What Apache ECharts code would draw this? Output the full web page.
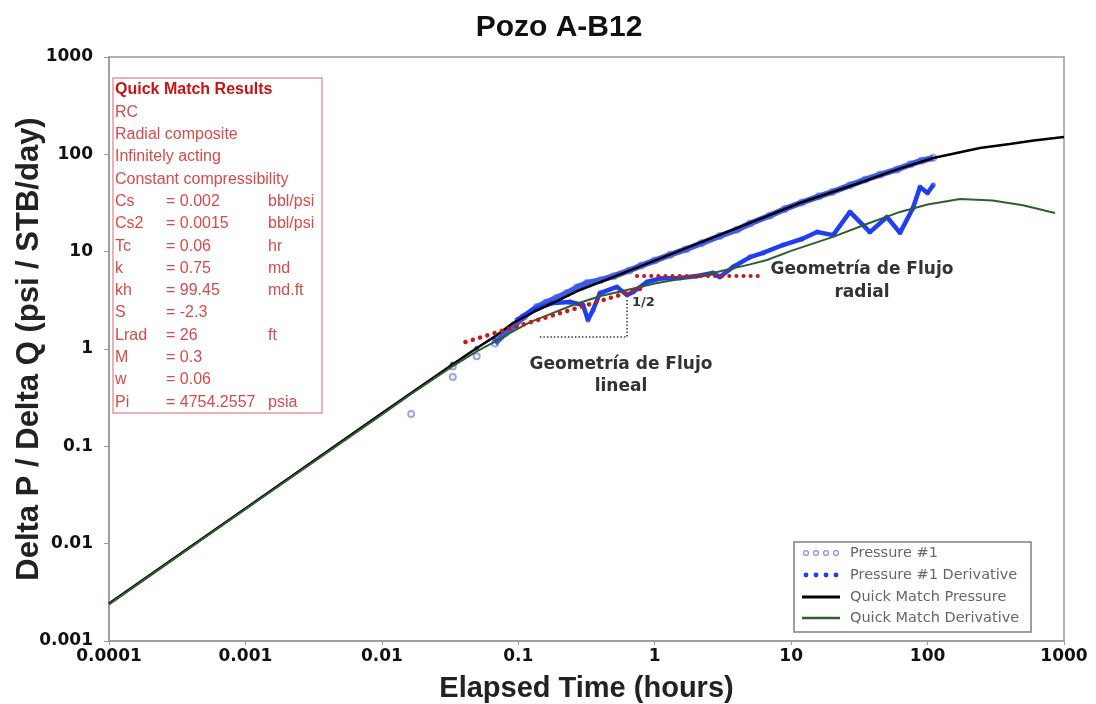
<!DOCTYPE html>
<html><head><meta charset="utf-8">
<script src="https://cdn.jsdelivr.net/npm/echarts@6/dist/echarts.min.js"></script>
<style>html,body{margin:0;padding:0;background:#fff}#c{width:1096px;height:704px}</style>
</head><body><div id="c"></div>
<script>
// ---------- data ----------
const xTickLabels = ['0.0001','0.001','0.01','0.1','1','10','100','1000'];
const yTickLabels = ['0.001','0.01','0.1','1','10','100','1000'];

const pressure1 = [[0.0164,0.215],[0.0331,0.515],[0.0331,0.66],[0.0496,0.84],[0.0675,1.14],[0.08,1.45],[0.095,1.78],[0.11,2.15],[0.137,2.70],[0.16,3.0],[0.19,3.35],[0.227,3.76],[0.27,4.3],[0.319,4.77],[0.4,5.1],[0.5,5.6],[0.65,6.4],[0.8,7.2],[1.0,8.1],[1.3,9.3],[1.7,10.6],[2.2,12.2],[3.0,14.5],[4.0,16.8],[5.0,19.5],[7,23.5],[9,27.5],[12,32],[16,37],[20,41],[27,48],[35,55],[45,62],[60,70],[75,79],[90,86],[110,92]];

const pressure1Deriv = [[0.033,0.70],[0.0496,1.02],[0.0675,1.24],[0.0977,1.99],[0.128,2.52],[0.179,2.97],[0.239,3.04],[0.298,2.83],[0.324,1.99],[0.353,2.52],[0.397,3.76],[0.528,4.34],[0.627,3.59],[0.694,3.85],[0.877,4.88],[1.1,5.3],[1.53,5.36],[2.0,5.6],[2.67,6.04],[3.0,5.5],[3.75,6.96],[5.0,8.8],[6.22,9.7],[8.7,11.7],[12,13.5],[15.5,15.9],[20.3,14.8],[27,25.6],[37.8,15.9],[50.4,22.7],[62.8,15.6],[78.2,28.1],[88,46.2],[100,40],[110,48.4]];

const qmPressure = [[0.0001,0.00242],[0.001,0.023],[0.01,0.218],[0.0164,0.352],[0.0327,0.69],[0.05,1.03],[0.0698,1.39],[0.0914,1.85],[0.13,2.4],[0.2,3.2],[0.283,4.04],[0.5,5.5],[1,8.1],[2.42,13.2],[5,19.8],[11.6,31.6],[30,49.6],[60,70],[110,91.7],[242,116],[400,128],[600,139],[859,147],[1000,151]];

const qmDeriv = [[0.0001,0.00238],[0.001,0.0226],[0.01,0.212],[0.0164,0.345],[0.0327,0.66],[0.05,0.95],[0.0698,1.22],[0.09,1.5],[0.122,1.89],[0.18,2.35],[0.252,2.83],[0.4,3.5],[0.627,4.04],[1.0,4.7],[1.53,5.24],[2.67,6.04],[3.5,6.6],[5,7.4],[6.65,8.2],[10,10.2],[20.3,14.2],[35,19],[62.8,25.6],[100,30.5],[173,34.8],[300,33.5],[500,30],[859,25]];

const halfSlopeLine = [[0.041,1.18],[0.82,4.24]];
const radialFlowLine = [[0.741,5.62],[5.91,5.62]];
const slopeTriangle = [[0.144,1.33],[0.627,1.33],[0.627,3.34]];

const infoTitle = 'Quick Match Results';
const infoHeader = ['RC','Radial composite','Infinitely acting','Constant compressibility'];
const infoParams = ['Cs','Cs2','Tc','k','kh','S','Lrad','M','w','Pi'];
const infoValues = ['= 0.002','= 0.0015','= 0.06','= 0.75','= 99.45','= -2.3','= 26','= 0.3','= 0.06','= 4754.2557'];
const infoUnits = ['bbl/psi','bbl/psi','hr','md','md.ft','','ft','','','psia'];

const legendNames = ['Pressure #1','Pressure #1 Derivative','Quick Match Pressure','Quick Match Derivative'];

// ---------- styles ----------
const C_P = '#8a8ae8', C_PBAND = '#3d5ce6', C_D = '#1f3ff0', C_QP = '#000000', C_QD = '#2f5f2f', C_RED = '#c41a1a';
const FB = '"DejaVu Sans", sans-serif';
const FA = '"Liberation Sans", Arial, sans-serif';

const chart = echarts.init(document.getElementById('c'), null, {renderer: 'canvas'});

function decLabel(arr, offset) {
  return function (v) { const i = Math.round(Math.log10(v)) + offset; return arr[i] !== undefined ? arr[i] : ''; };
}

// graphic: info box
const graphics = [];
const boxTextColor = '#d84a4a';
graphics.push({type:'rect', shape:{x:113,y:78,width:209,height:335}, style:{fill:'rgba(255,255,255,0)', stroke:'#e49a9a', lineWidth:1.5}, z:50});
let rowY = 90, step = 22.3;
graphics.push({type:'text', x:115, y:rowY, style:{text:infoTitle, font:'bold 16px ' + FA, fill:'#cc1111', align:'left', verticalAlign:'middle'}, z:51});
infoHeader.forEach((t,i)=>{
  graphics.push({type:'text', x:115, y:rowY+step*(i+1), style:{text:t, font:'16px ' + FA, fill:boxTextColor, align:'left', verticalAlign:'middle'}, z:51});
});
infoParams.forEach((p,i)=>{
  const yy = rowY + step*(i+1+infoHeader.length);
  graphics.push({type:'text', x:115, y:yy, style:{text:p, font:'16px ' + FA, fill:boxTextColor, align:'left', verticalAlign:'middle'}, z:51});
  graphics.push({type:'text', x:166, y:yy, style:{text:infoValues[i], font:'16px ' + FA, fill:boxTextColor, align:'left', verticalAlign:'middle'}, z:51});
  if (infoUnits[i]) graphics.push({type:'text', x:268, y:yy, style:{text:infoUnits[i], font:'16px ' + FA, fill:boxTextColor, align:'left', verticalAlign:'middle'}, z:51});
});

// graphic: legend
const LX = 794, LY = 542;
graphics.push({type:'rect', shape:{x:LX,y:LY,width:237,height:90}, style:{fill:'#fff', stroke:'#808080', lineWidth:1.5}, z:60});
const rowsY = [553,575,597,618];
legendNames.forEach((n,i)=>{
  const cy = rowsY[i];
  if (i < 2) {
    for (let k=0;k<4;k++) {
      graphics.push({type:'circle', shape:{cx:806+k*10, cy:cy, r:2.4}, style: i===0 ? {fill:'#fff', stroke:C_P, lineWidth:1.2} : {fill:C_D}, z:61});
    }
  } else {
    graphics.push({type:'line', shape:{x1:802,y1:cy,x2:840,y2:cy}, style:{stroke: i===2?C_QP:C_QD, lineWidth: i===2?3:2.5}, z:61});
  }
  graphics.push({type:'text', x:850, y:cy, style:{text:n, font:'14.5px ' + FB, fill:'#666', align:'left', verticalAlign:'middle'}, z:61});
});

// annotations
const annFont = 'bold 17px ' + FB;
graphics.push({type:'text', x:621, y:365, style:{text:'Geometría de Flujo', font:annFont, fill:'#333', align:'center', verticalAlign:'middle'}, z:40});
graphics.push({type:'text', x:621, y:387, style:{text:'lineal', font:annFont, fill:'#333', align:'center', verticalAlign:'middle'}, z:40});
graphics.push({type:'text', x:862, y:270, style:{text:'Geometría de Flujo', font:annFont, fill:'#333', align:'center', verticalAlign:'middle'}, z:40});
graphics.push({type:'text', x:862, y:293, style:{text:'radial', font:annFont, fill:'#333', align:'center', verticalAlign:'middle'}, z:40});
graphics.push({type:'text', x:632, y:303, style:{text:'1/2', font:'bold 13px ' + FB, fill:'#333', align:'left', verticalAlign:'middle'}, z:40});

const option = {
  animation: false,
  backgroundColor: '#fff',
  title: {text:'Pozo A-B12', left: 554, top: 8, textAlign:'center', textStyle:{fontFamily:'Liberation Sans', fontWeight:'bold', fontSize:30, color:'#111'}},
  grid: {left:109, right:32, top:57, bottom:63, show:true, borderColor:'#999', borderWidth:1.5, backgroundColor:'transparent', containLabel:false, outerBoundsMode:'none'},
  xAxis: {
    type:'log', logBase:10, min:0.0001, max:1000,
    name:'Elapsed Time (hours)', nameLocation:'middle', nameGap:33, nameMoveOverlap:false,
    nameTextStyle:{fontFamily:'Liberation Sans', fontWeight:'bold', fontSize:29, color:'#222'},
    axisLine:{show:true, lineStyle:{color:'#999', width:1.5}},
    axisTick:{show:true, inside:false, length:4, lineStyle:{color:'#999'}},
    minorTick:{show:false}, splitLine:{show:false},
    axisLabel:{formatter: decLabel(xTickLabels, 4), fontFamily:'DejaVu Sans', fontWeight:'bold', fontSize:17, color:'#111', margin:7}
  },
  yAxis: {
    type:'log', logBase:10, min:0.001, max:1000,
    name:'Delta P / Delta Q (psi / STB/day)', nameLocation:'middle', nameGap:64, nameMoveOverlap:false,
    nameTextStyle:{fontFamily:'Liberation Sans', fontWeight:'bold', fontSize:31, color:'#222'},
    axisLine:{show:true, lineStyle:{color:'#999', width:1.5}},
    axisTick:{show:true, inside:false, length:5, lineStyle:{color:'#999'}},
    minorTick:{show:false}, splitLine:{show:false},
    axisLabel:{formatter: decLabel(yTickLabels, 3), fontFamily:'DejaVu Sans', fontWeight:'bold', fontSize:17, color:'#111', margin:16}
  },
  graphic: graphics,
  series: [
    {name:'Pressure #1', type:'scatter', data: pressure1, symbol:'emptyCircle', symbolSize:6, itemStyle:{color:C_P, borderColor:C_P, borderWidth:1.2}, z:1},
    {name:'Pressure #1', type:'line', data: pressure1.filter(p=>p[0]>=0.06), showSymbol:false, lineStyle:{color:C_PBAND, width:6}, itemStyle:{color:C_PBAND}, z:2, silent:true},
    {name:'Pressure #1 Derivative', type:'line', data: pressure1Deriv.filter(p=>p[0]>=0.09), showSymbol:false, lineStyle:{color:C_D, width:4.5}, itemStyle:{color:C_D}, z:4, silent:true},
    {name:'Pressure #1 Derivative', type:'scatter', data: pressure1Deriv, symbol:'circle', symbolSize:5, itemStyle:{color:C_D}, z:4},
    {name:'Quick Match Pressure', type:'line', data: qmPressure, showSymbol:false, smooth:false, lineStyle:{color:C_QP, width:2.5}, itemStyle:{color:C_QP}, z:5},
    {name:'Quick Match Derivative', type:'line', data: qmDeriv, showSymbol:false, smooth:false, lineStyle:{color:C_QD, width:2}, itemStyle:{color:C_QD}, z:6},
    {name:'Half slope', type:'line', data: halfSlopeLine, showSymbol:false, lineStyle:{color:C_RED, width:4.5, type:[0.1,7.5], cap:'round'}, z:7, silent:true},
    {name:'Radial flow', type:'line', data: radialFlowLine, showSymbol:false, lineStyle:{color:C_RED, width:4, type:[0.1,7], cap:'round'}, z:7, silent:true},
    {name:'Slope triangle', type:'line', data: slopeTriangle, showSymbol:false, lineStyle:{color:'#333', width:1.5, type:[1.5,2]}, z:7, silent:true}
  ]
};
chart.setOption(option);
</script>
</body></html>
